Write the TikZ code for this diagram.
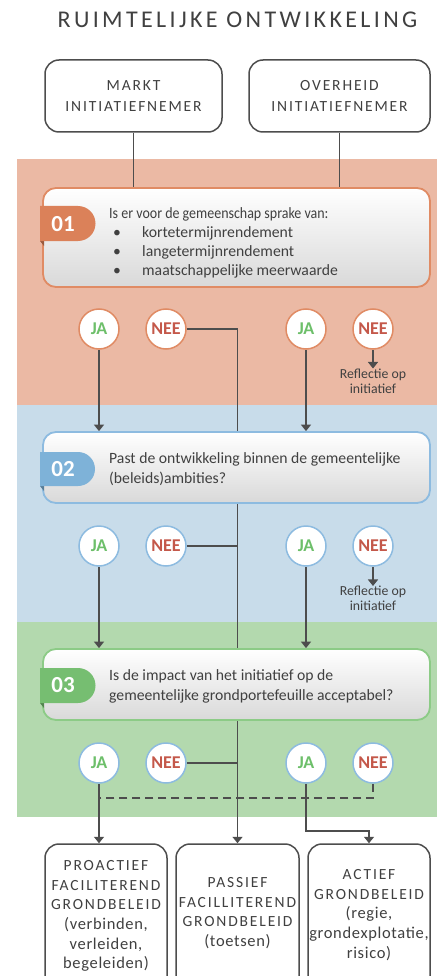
\documentclass[tikz,border=0pt]{standalone}
\usepackage{fontspec}
\setmainfont{Carlito}
\newfontfamily\titlefont[LetterSpace=14]{Carlito}
\newfontfamily\capsfont[LetterSpace=12]{Carlito}
\newfontfamily\lowfont[LetterSpace=4]{Carlito}
\usetikzlibrary{arrows.meta,calc}
\definecolor{bandO}{HTML}{EBB9A4}
\definecolor{bandB}{HTML}{C8DCEA}
\definecolor{bandG}{HTML}{B3D9AE}
\definecolor{bordO}{HTML}{E08B64}
\definecolor{bordB}{HTML}{8DBBE0}
\definecolor{bordG}{HTML}{8CCB86}
\definecolor{tabO}{HTML}{DB8159}
\definecolor{tabB}{HTML}{7EB2D8}
\definecolor{tabG}{HTML}{76BE71}
\definecolor{txt}{HTML}{404040}
\definecolor{ln}{HTML}{4D4D4D}
\definecolor{jaC}{HTML}{6DBF6A}
\definecolor{neeC}{HTML}{C4584A}
\pgfdeclarelayer{bands}
\pgfdeclarelayer{lines}
\pgfsetlayers{bands,lines,main}
\tikzset{
  topbox/.style={draw=ln, line width=1.5pt, rounded corners=14pt, fill=white,
    minimum width=#1, minimum height=72pt, align=center, text=txt,
    font=\capsfont\fontsize{15.5}{21}\selectfont},
  qbox/.style={draw=#1, line width=1.8pt, rounded corners=13pt,
    top color=white, bottom color=black!15, minimum width=387pt},
  qtext/.style={anchor=west, align=left, text=txt, inner sep=0pt,
    font=\fontsize{15.7}{19}\selectfont},
  tabnum/.style={text=white, font=\bfseries\fontsize{23}{26}\selectfont},
  circ/.style={circle, draw=#1, line width=1.5pt, fill=white,
    minimum size=40pt, inner sep=0pt, font=\bfseries\fontsize{18}{20}\selectfont},
  ja/.style={circ=#1, text=jaC},
  nee/.style={circ=#1, text=neeC},
  refl/.style={text=txt, align=center, inner sep=0pt,
    font=\fontsize{13.8}{15}\selectfont},
  endbox/.style={draw=ln, line width=1.5pt, rounded corners=14pt, fill=white,
    minimum width=#1, minimum height=146pt, text=txt},
  endtext/.style={text=txt, align=center, inner sep=0pt,
    font=\lowfont\fontsize{16.5}{19.6}\selectfont},
  con/.style={draw=ln, line width=1.5pt},
  arr/.style={con, -{Triangle[width=10pt,length=6.5pt]}},
}
\newcommand{\cp}[1]{{\capsfont\fontsize{15.5}{19.6}\selectfont #1}}
\begin{document}
\begin{tikzpicture}[x=1pt,y=-1pt]
\useasboundingbox (0,0) rectangle (437,976);
% bands
\begin{pgfonlayer}{bands}
\fill[white] (0,0) rectangle (437,976);
\fill[bandO] (17,159) rectangle (437,405);
\fill[bandB] (17,405) rectangle (437,622);
\fill[bandG] (17,622) rectangle (437,817);
\end{pgfonlayer}
% title
\node[text=txt, font=\titlefont\fontsize{24}{27}\selectfont] (title) at (237.5,20) {RUIMTELIJKE ONTWIKKELING};
% top boxes
\node[topbox=177pt] (markt) at (133.5,96) {MARKT\\INITIATIEFNEMER};
\node[topbox=181pt] (overheid) at (339.5,96) {OVERHEID\\INITIATIEFNEMER};
% question boxes
\node[qbox=bordO, minimum height=99pt] (box1) at (236.5,237.5) {};
\node[qbox=bordB, minimum height=71pt] (box2) at (236.5,467.5) {};
\node[qbox=bordG, minimum height=71pt] (box3) at (236.5,684.5) {};
% tabs
\fill[tabO!70!black] (40,241) -- (44,241) -- (44,246) -- cycle;
\fill[tabO] (40,206) -- (78,206) arc[start angle=90,end angle=-90,radius=17.5pt] -- (40,241) -- cycle;
\node[tabnum] (n1) at (63,224) {01};
\fill[tabB!70!black] (40,486) -- (44,486) -- (44,491) -- cycle;
\fill[tabB] (40,452) -- (78,452) arc[start angle=90,end angle=-90,radius=17pt] -- (40,486) -- cycle;
\node[tabnum] (n2) at (63,469) {02};
\fill[tabG!70!black] (40,703) -- (44,703) -- (44,708) -- cycle;
\fill[tabG] (40,668) -- (78,668) arc[start angle=90,end angle=-90,radius=17.5pt] -- (40,703) -- cycle;
\node[tabnum] (n3) at (63,685.5) {03};
% question texts
\node[qtext] (q1) at (109,242.5) {\scalebox{0.89}[1]{Is er voor de gemeenschap sprake van:}\\
\makebox[33pt][l]{\hspace{4pt}\textbullet}kortetermijnrendement\\
\makebox[33pt][l]{\hspace{4pt}\textbullet}langetermijnrendement\\
\makebox[33pt][l]{\hspace{4pt}\textbullet}maatschappelijke meerwaarde};
\node[qtext, font=\fontsize{15.7}{20}\selectfont] (q2) at (109,469) {Past de ontwikkeling binnen de gemeentelijke\\(beleids)ambities?};
\node[qtext, font=\fontsize{15.7}{20}\selectfont] (q3) at (109,686) {Is de impact van het initiatief op de\\gemeentelijke grondportefeuille acceptabel?};
% circles band 1
\node[ja=bordO] (ja1L) at (99,329) {JA};
\node[nee=bordO] (nee1L) at (166,329) {NEE};
\node[ja=bordO] (ja1R) at (306,329) {JA};
\node[nee=bordO] (nee1R) at (373,329) {NEE};
\node[refl] (r1) at (373,381) {Reflectie op\\initiatief};
% circles band 2
\node[ja=bordB] (ja2L) at (99,546) {JA};
\node[nee=bordB] (nee2L) at (166,546) {NEE};
\node[ja=bordB] (ja2R) at (306,546) {JA};
\node[nee=bordB] (nee2R) at (373,546) {NEE};
\node[refl] (r2) at (373,598.5) {Reflectie op\\initiatief};
% circles band 3
\node[ja=bordB] (ja3L) at (99,763) {JA};
\node[nee=bordB] (nee3L) at (166,763) {NEE};
\node[ja=bordB] (ja3R) at (306,763) {JA};
\node[nee=bordB] (nee3R) at (373,763) {NEE};
% end boxes
\node[endbox=122pt] (proactief) at (106,917) {};
\node[endbox=123pt] (passief) at (237.5,917) {};
\node[endbox=122pt] (actief) at (369,917) {};
\node[endtext] (t1) at (106,916)
  {\cp{PROACTIEF}\\\cp{FACILITEREND}\\\cp{GRONDBELEID}\\(verbinden,\\verleiden,\\begeleiden)};
\node[endtext] (t2) at (237.5,913)
  {\cp{PASSIEF}\\\cp{FACILLITEREND}\\\cp{GRONDBELEID}\\(toetsen)};
\node[endtext] (t3) at (369,915)
  {\cp{ACTIEF}\\\cp{GRONDBELEID}\\(regie,\\grondexplotatie,\\risico)};
% helper coordinates
\coordinate (bend) at (369,831);
\coordinate (dashL) at (99,798);
% connectors
\begin{pgfonlayer}{lines}
\draw[con] (markt.south) -- (markt.south |- box1.north);
\draw[con] (overheid.south) -- (overheid.south |- box1.north);
\draw[arr] (ja1L.south) -- (ja1L.south |- box2.north);
\draw[arr] (ja1R.south) -- (ja1R.south |- box2.north);
\draw[arr] (ja2L.south) -- (ja2L.south |- box3.north);
\draw[arr] (ja2R.south) -- (ja2R.south |- box3.north);
\draw[arr] (nee1L.east) -| (passief.north);
\draw[con] (nee2L.east) -- (nee2L.east -| passief.north);
\draw[con] (nee3L.east) -- (nee3L.east -| passief.north);
\draw[arr] (nee1R.south) -- (r1.north);
\draw[arr] (nee2R.south) -- (r2.north);
\draw[arr] (ja3L.south) -- (ja3L.south |- proactief.north);
\draw[arr] (ja3R.south) |- (bend) -- (actief.north);
\draw[con, dashed, dash pattern=on 8pt off 5pt] (nee3R.south) |- (dashL);
\end{pgfonlayer}
\end{tikzpicture}
\end{document}
